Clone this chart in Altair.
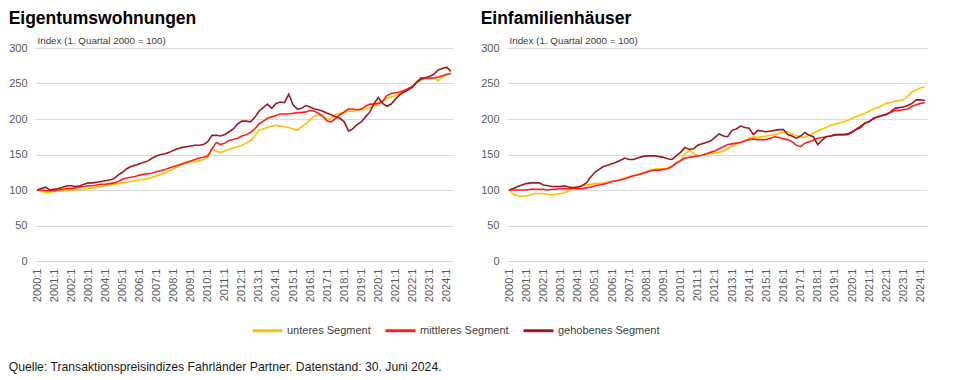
import altair as alt
import pandas as pd

FONT = "Liberation Sans"

segments = ["unteres Segment", "mittleres Segment", "gehobenes Segment"]
seg_colors = ["#FFC000", "#FF1F1F", "#9A1B22"]

years = list(range(2000, 2025))
# quarterly points 2000:1 ... 2024:2
times = [y + q / 4 for y in years for q in range(4)][:98]

# Eigentumswohnungen
ew_unteres = [
    100, 98, 97, 97,  98, 99, 99, 99,  100, 100, 100, 101,  102, 103, 104, 105,
    106, 107, 108, 109,  110, 111, 112, 113,  114, 115, 116, 118,  120, 122, 124, 127,
    130, 133, 136, 138,  140, 140, 141, 143,  146, 158, 155, 153,  155, 157, 159, 161,
    163, 166, 170, 176,  184, 186, 188, 190,  191, 190, 189, 188,  186, 184, 189, 193,
    199, 204, 206, 204,  199, 202, 206, 208,  209, 211, 211, 212,  213, 214, 216, 218,
    220, 225, 229, 231,  233, 236, 238, 241,  245, 251, 255, 256,  257, 258, 254, 259,
    262, 264,
]
ew_mittleres = [
    100, 100, 99, 99,  99, 100, 101, 102,  102, 103, 104, 105,  106, 106, 107, 108,
    108, 109, 110, 112,  115, 117, 118, 119,  121, 122, 123, 124,  126, 127, 129, 131,
    133, 135, 137, 139,  141, 143, 145, 146,  148, 158, 167, 164,  166, 170, 171, 173,
    176, 178, 181, 186,  193, 197, 201, 203,  205, 207, 207, 207,  208, 209, 209, 210,
    212, 211, 208, 204,  197, 196, 201, 206,  210, 214, 214, 213,  214, 218, 221, 221,
    222, 225, 233, 236,  237, 238, 240, 243,  246, 252, 258, 258,  257, 258, 259, 261,
    263, 264,
]
ew_gehobenes = [
    100, 102, 104, 100,  101, 102, 104, 106,  106, 105, 106, 108,  110, 110, 111, 112,
    113, 114, 116, 121,  125, 130, 133, 135,  137, 139, 141, 145,  148, 150, 151, 153,
    156, 158, 160, 161,  162, 163, 163, 164,  168, 177, 177, 176,  178, 182, 186, 193,
    197, 197, 196, 202,  211, 216, 221, 215,  222, 224, 223, 235,  220, 214, 215, 219,
    217, 214, 213, 211,  208, 206, 203, 201,  196, 183, 186, 192,  196, 203, 210, 222,
    230, 222, 218, 221,  228, 234, 238, 241,  245, 252, 256, 258,  260, 263, 269, 271,
    273, 267,
]

# Einfamilienhaeuser
ef_unteres = [
    100, 94, 92, 91,  92, 93, 95, 95,  95, 94, 93, 94,  95, 96, 99, 104,
    105, 106, 107, 108,  109, 109, 110, 111,  112, 113, 115, 117,  119, 120, 122, 124,
    126, 128, 129, 130,  130, 131, 134, 138,  142, 150, 156, 152,  148, 149, 150, 151,
    152, 153, 155, 158,  162, 164, 167, 170,  173, 175, 174, 175,  176, 177, 178, 180,
    181, 182, 179, 177,  175, 174, 177, 180,  183, 186, 188, 191,  193, 194, 196, 198,
    201, 203, 206, 208,  211, 214, 216, 219,  222, 223, 225, 226,  227, 232, 238, 241,
    244, 245,
]
ef_mittleres = [
    100, 100, 100, 100,  100, 101, 101, 101,  101, 100, 101, 101,  102, 102, 102, 102,
    102, 102, 103, 104,  106, 107, 108, 110,  112, 113, 114, 116,  118, 120, 121, 123,
    125, 127, 128, 128,  129, 130, 133, 138,  141, 145, 146, 147,  148, 149, 151, 153,
    155, 158, 161, 164,  165, 166, 167, 169,  171, 172, 171, 171,  171, 173, 175, 174,
    172, 171, 168, 163,  161, 166, 168, 170,  173, 174, 175, 176,  177, 178, 178, 178,
    181, 186, 190, 194,  197, 200, 203, 205,  207, 209, 212, 212,  213, 214, 218, 220,
    222, 223,
]
ef_gehobenes = [
    100, 102, 105, 107,  109, 110, 110, 110,  107, 106, 105, 105,  105, 106, 104, 103,
    104, 106, 110, 118,  125, 129, 133, 135,  137, 139, 142, 145,  143, 143, 145, 147,
    148, 148, 148, 147,  146, 144, 143, 148,  153, 160, 157, 158,  163, 165, 167, 169,
    174, 179, 176, 175,  184, 186, 190, 188,  187, 178, 184, 183,  182, 183, 184, 185,
    185, 178, 176, 173,  176, 181, 177, 175,  164, 170, 175, 176,  178, 178, 178, 179,
    182, 185, 188, 194,  196, 201, 203, 205,  206, 210, 215, 216,  217, 219, 222, 227,
    227, 226,
]

y_ticks = [0, 50, 100, 150, 200, 250, 300]
index_label = "Index (1. Quartal 2000 = 100)"
source_text = "Quelle: Transaktionspreisindizes Fahrländer Partner. Datenstand: 30. Juni 2024."


def make_df(unt, mit, geh):
    rows = []
    for name, vals in zip(segments, [unt, mit, geh]):
        for t, v in zip(times, vals):
            rows.append({"t": t, "value": v, "segment": name})
    return pd.DataFrame(rows)


def panel(df, title, width):
    x = alt.X(
        "t:Q",
        scale=alt.Scale(domain=[1999.875, 2024.375], nice=False, zero=False),
        axis=alt.Axis(
            values=years, labelExpr="datum.value + ':1'", labelAngle=-90,
            grid=False, domain=False, ticks=False, title=None, labelPadding=7,
            labelFontSize=11, labelFont=FONT, labelColor="#595959",
            labelOverlap=False, labelFlush=False,
        ),
    )
    y = alt.Y(
        "value:Q",
        scale=alt.Scale(domain=[0, 300], nice=False),
        axis=alt.Axis(
            values=y_ticks, grid=True, gridColor="#d9d9d9", gridWidth=1.2,
            domain=False, ticks=False, labelPadding=8, labelFontSize=11,
            labelFont=FONT, labelColor="#595959",
            title=index_label, titleAngle=0, titleX=2, titleY=-5,
            titleAlign="left", titleBaseline="alphabetic", titleFontSize=9.8,
            titleFontWeight="normal", titleFont=FONT, titleColor="#404040",
        ),
    )
    color = alt.Color(
        "segment:N",
        scale=alt.Scale(domain=segments, range=seg_colors),
        legend=alt.Legend(
            title=None, orient="none", legendX=216, legendY=266,
            direction="horizontal", columns=3, symbolType="stroke",
            symbolSize=900, symbolStrokeWidth=3, labelFontSize=11,
            labelFont=FONT, labelColor="#404040", labelOffset=3,
            columnPadding=8,
        ),
    )
    layers = [
        alt.Chart(df).transform_filter(alt.datum.segment == s)
        .mark_line(strokeWidth=1.6)
        .encode(x=x, y=y, color=color)
        for s in segments
    ]
    return alt.layer(*layers).properties(
        width=width, height=213,
        title=alt.Title(title, anchor="start", frame="bounds", fontSize=17.5,
                        fontWeight="bold", font=FONT, color="#000000", offset=8),
    )


left = panel(make_df(ew_unteres, ew_mittleres, ew_gehobenes), "Eigentumswohnungen", 418)
right = panel(make_df(ef_unteres, ef_mittleres, ef_gehobenes), "Einfamilienhäuser", 420)

chart = alt.hconcat(left, right, spacing=25).properties(
    padding={"top": 1, "left": 0, "right": 0, "bottom": 0},
    title=alt.Title(source_text, orient="bottom", anchor="start", frame="bounds",
                    fontSize=12.2, fontWeight="normal", font=FONT,
                    color="#1a1a1a", offset=24),
).configure_view(stroke=None)

chart.save("out.html", embed_options={"renderer": "svg", "actions": False})
